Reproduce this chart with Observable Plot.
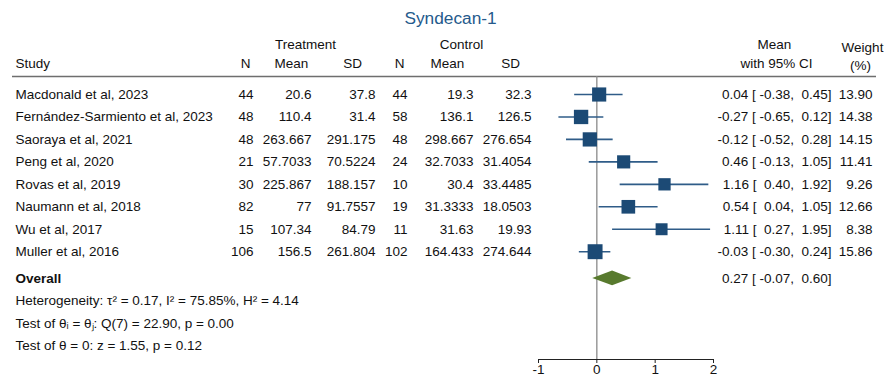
<!DOCTYPE html>
<html>
<head>
<meta charset="utf-8">
<script src="https://cdn.jsdelivr.net/npm/d3@7"></script>
<script src="https://cdn.jsdelivr.net/npm/@observablehq/plot@0.6"></script>
<style>
  html, body { margin: 0; padding: 0; background: #fff; }
  #chart svg { display: block; }
</style>
</head>
<body>
<div id="chart"></div>
<script>
// ---------- data ----------
const title = "Syndecan-1";
const studies = [
  "Macdonald et al, 2023",
  "Fernández-Sarmiento et al, 2023",
  "Saoraya et al, 2021",
  "Peng et al, 2020",
  "Rovas et al, 2019",
  "Naumann et al, 2018",
  "Wu et al, 2017",
  "Muller et al, 2016"
];
const tN    = [44, 48, 48, 21, 30, 82, 15, 106];
const tMean = [20.6, 110.4, 263.667, 57.7033, 225.867, 77, 107.34, 156.5];
const tSD   = [37.8, 31.4, 291.175, 70.5224, 188.157, 91.7557, 84.79, 261.804];
const cN    = [44, 58, 48, 24, 10, 19, 11, 102];
const cMean = [19.3, 136.1, 298.667, 32.7033, 30.4, 31.3333, 31.63, 164.433];
const cSD   = [32.3, 126.5, 276.654, 31.4054, 33.4485, 18.0503, 19.93, 274.644];
const est   = [0.04, -0.27, -0.12, 0.46, 1.16, 0.54, 1.11, -0.03];
const lo    = [-0.38, -0.65, -0.52, -0.13, 0.40, 0.04, 0.27, -0.30];
const hi    = [0.45, 0.12, 0.28, 1.05, 1.92, 1.05, 1.95, 0.24];
const weight = [13.90, 14.38, 14.15, 11.41, 9.26, 12.66, 8.38, 15.86];
const overallLabel = "Overall";
const overallEst = 0.27, overallLo = -0.07, overallHi = 0.60;
const statLines = [
  "Heterogeneity: τ² = 0.17, I² = 75.85%, H² = 4.14",
  "Test of θᵢ = θⱼ: Q(7) = 22.90, p = 0.00",
  "Test of θ = 0: z = 1.55, p = 0.12"
];
const xTicks = [-1, 0, 1, 2];

// ---------- layout ----------
const W = 885, H = 381;
const X0 = 538, X1 = 713;            // pixel range of the forest panel
const xDom = [-1, 2];
const xAt = p => xDom[0] + (p - X0) * (xDom[1] - xDom[0]) / (X1 - X0);
const FS = 13.5;
const FONT = "'Liberation Sans', Arial, Helvetica, sans-serif";
const INK = "#111";

// rows: study index i -> y via scale (0 -> 94px, 7 -> 251px)
const rowTitle = -3.4, rowH1 = -2.2, rowH2 = -1.36, rowW1 = -2.1, rowW2 = -1.29;
const rowRule = -0.80, rowOverall = 8.19;
const statRows = [9.19, 10.2, 11.2];

const rows = studies.map((s, i) => ({
  i, study: s, tN: tN[i], tMean: tMean[i], tSD: tSD[i],
  cN: cN[i], cMean: cMean[i], cSD: cSD[i],
  est: est[i], lo: lo[i], hi: hi[i], w: weight[i]
}));

const pad = v => { const s = v.toFixed(2); return "\u00a0".repeat(Math.max(0, 6 - s.length)) + s; };
const ciText = (e, l, h) => `${e.toFixed(2)} [${pad(l)},${pad(h)}]`;

const numCols = [
  {key: "tN", px: 253}, {key: "tMean", px: 311}, {key: "tSD", px: 375},
  {key: "cN", px: 407}, {key: "cMean", px: 473}, {key: "cSD", px: 531}
];
const headersMid = [
  {t: "Treatment", px: 305, row: rowH1},
  {t: "Control", px: 461, row: rowH1},
  {t: "N", px: 245, row: rowH2},
  {t: "Mean", px: 291, row: rowH2},
  {t: "SD", px: 352, row: rowH2},
  {t: "N", px: 399, row: rowH2},
  {t: "Mean", px: 447, row: rowH2},
  {t: "SD", px: 510, row: rowH2},
  {t: "Mean", px: 774, row: rowH1},
  {t: "with 95% CI", px: 776, row: rowH2},
  {t: "Weight", px: 862, row: rowW1},
  {t: "(%)", px: 860, row: rowW2}
];
const headersStart = [{t: "Study", px: 15, row: rowH2}];

const h = 0.33; // diamond half-height in row units
const diamond = [
  {x: overallLo, y1: rowOverall, y2: rowOverall},
  {x: overallEst, y1: rowOverall - h, y2: rowOverall + h},
  {x: overallHi, y1: rowOverall, y2: rowOverall}
];

const txt = {fontSize: FS, fill: INK, fontFamily: FONT};

const marks = [
  // title
  Plot.text([title], {x: xAt(450), y: rowTitle, text: d => d, fontSize: 17.3, fill: "#255a8c", fontFamily: FONT}),
  // headers
  Plot.text(headersMid, {x: d => xAt(d.px), y: "row", text: "t", textAnchor: "middle", ...txt}),
  Plot.text(headersStart, {x: d => xAt(d.px), y: "row", text: "t", textAnchor: "start", ...txt}),
  Plot.ruleY([rowRule], {x1: xAt(12), x2: xAt(876), stroke: "#6e6e6e", strokeWidth: 1.6}),
  // zero line
  Plot.ruleX([0], {stroke: "#8a8a8a", strokeWidth: 1.3}),
  // axis line + axis
  Plot.frame({anchor: "bottom", stroke: "#222", strokeWidth: 1}),
  Plot.axisX({ticks: xTicks, tickFormat: d => String(d), tickSize: 4, tickPadding: 1, fontSize: FS, label: null, fill: INK, stroke: "#222", fontFamily: FONT}),
  // study names
  Plot.text(rows, {x: xAt(15), y: "i", text: "study", textAnchor: "start", ...txt}),
  ...numCols.map(c => Plot.text(rows, {x: xAt(c.px), y: "i", text: d => String(d[c.key]), textAnchor: "end", ...txt})),
  Plot.text(rows, {x: xAt(831), y: "i", text: d => ciText(d.est, d.lo, d.hi), textAnchor: "end", ...txt}),
  Plot.text(rows, {x: xAt(872), y: "i", text: d => d.w.toFixed(2), textAnchor: "end", ...txt}),
  // CIs and squares
  Plot.ruleY(rows, {y: "i", x1: "lo", x2: "hi", stroke: "#2f5c88", strokeWidth: 1.6}),
  Plot.dot(rows, {x: "est", y: "i", r: "w", symbol: "square", fill: "#1c4a75", stroke: "none"}),
  // overall
  Plot.text([overallLabel], {x: xAt(15), y: rowOverall, text: d => d, textAnchor: "start", fontWeight: "bold", ...txt}),
  Plot.areaY(diamond, {x: "x", y1: "y1", y2: "y2", fill: "#587a2e", curve: "linear"}),
  Plot.text([ciText(overallEst, overallLo, overallHi)], {x: xAt(831), y: rowOverall, text: d => d, textAnchor: "end", ...txt}),
  // stats
  Plot.text(statLines, {x: xAt(15), y: (d, i) => statRows[i], text: d => d, textAnchor: "start", ...txt})
];

const chart = Plot.plot({
  width: W, height: H,
  marginLeft: X0, marginRight: W - X1, marginTop: 76, marginBottom: 22,
  style: {fontFamily: FONT, fontSize: "13.5px", color: INK, background: "#fff", overflow: "visible"},
  x: {domain: xDom, range: [X0, X1], label: null},
  y: {domain: [0, 7], range: [94, 251.2], axis: null},
  r: {type: "linear", domain: [8, 16], range: [6.66, 8.46]},
  marks
});
document.getElementById("chart").appendChild(chart);
</script>
</body>
</html>
